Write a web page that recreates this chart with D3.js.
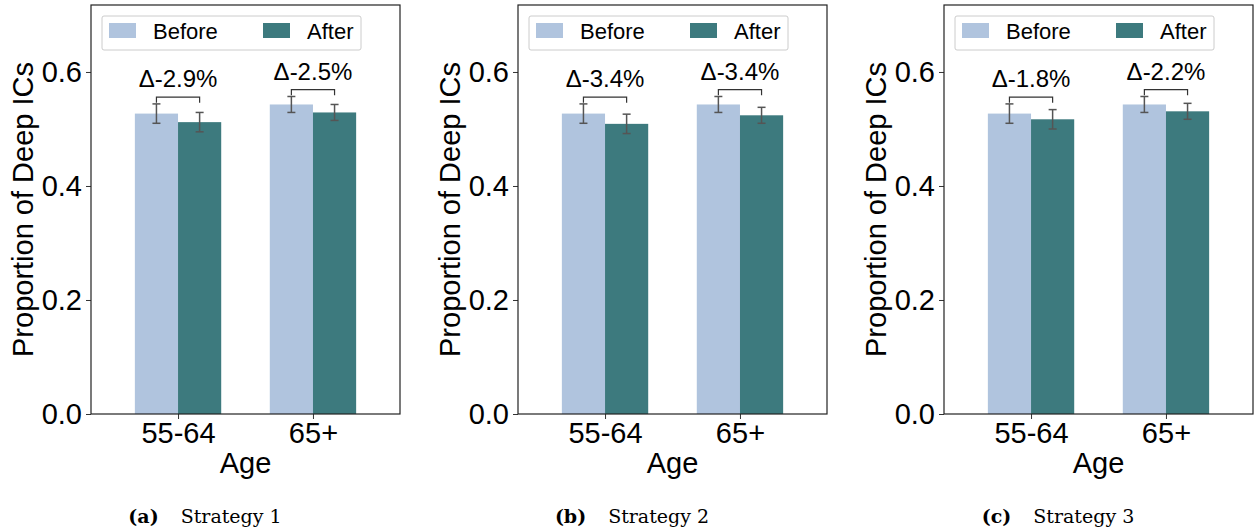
<!DOCTYPE html>
<html>
<head>
<meta charset="utf-8">
<script src="https://cdn.jsdelivr.net/npm/d3@7"></script>
<style>
  body { margin: 0; background: #fff; }
  svg { display: block; }
  .tick text { font-family: "Liberation Sans", Arial, sans-serif; font-size: 29px; fill: #000; }
  .tick line { stroke: #333; }
</style>
</head>
<body>
<svg id="chart" width="1254" height="532"></svg>
<script>
// data
var ageGroups = ["55-64", "65+"];
var seriesNames = ["Before", "After"];
var panelTags = ["(a)", "(b)", "(c)"];
var panelTitles = ["Strategy 1", "Strategy 2", "Strategy 3"];
var beforeValues = [[0.527, 0.543], [0.527, 0.543], [0.527, 0.543]];
var afterValues = [[0.512, 0.529], [0.509, 0.524], [0.517, 0.531]];
var beforeErr = [[0.017, 0.014], [0.017, 0.014], [0.017, 0.014]];
var afterErr = [[0.017, 0.014], [0.017, 0.014], [0.017, 0.014]];
var deltaLabels = [["Δ-2.9%", "Δ-2.5%"], ["Δ-3.4%", "Δ-3.4%"], ["Δ-1.8%", "Δ-2.2%"]];
var yTicks = [0, 0.2, 0.4, 0.6];

var colors = {Before: "#b0c4de", After: "#3d7a7e"};
var font = '"Liberation Sans", Arial, sans-serif';

var svg = d3.select('#chart');
svg.append('rect').attr('width', 1254).attr('height', 532).attr('fill', '#fff');

var panelLeft = [91, 518, 944],
    plotW = 309,
    plotTop = 5, plotBottom = 414,
    barW = 0.32;

var x = d3.scaleLinear().domain([-0.645, 1.645]).range([0, plotW]);
var y = d3.scaleLinear().domain([0, 0.7175]).range([plotBottom, plotTop]);

panelLeft.forEach(function(left, p) {
    var g = svg.append('g').attr('transform', 'translate(' + left + ',0)');

    var rows = ageGroups.map(function(a, i) {
        return [
            {name: "Before", i: i, v: beforeValues[p][i], e: beforeErr[p][i], off: -barW / 2},
            {name: "After", i: i, v: afterValues[p][i], e: afterErr[p][i], off: barW / 2}
        ];
    });
    var flat = rows[0].concat(rows[1]);

    // bars
    g.selectAll('rect.bar').data(flat).enter().append('rect')
        .attr('class', 'bar')
        .attr('x', function(d) { return x(d.i + d.off - barW / 2); })
        .attr('width', x(barW) - x(0))
        .attr('y', function(d) { return y(d.v); })
        .attr('height', function(d) { return y(0) - y(d.v); })
        .attr('fill', function(d) { return colors[d.name]; });

    // error bars
    var eb = g.selectAll('g.err').data(flat).enter().append('g')
        .attr('class', 'err')
        .attr('stroke', '#555')
        .attr('stroke-width', 1.5);
    eb.append('line')
        .attr('x1', function(d) { return x(d.i + d.off); })
        .attr('x2', function(d) { return x(d.i + d.off); })
        .attr('y1', function(d) { return y(d.v - d.e); })
        .attr('y2', function(d) { return y(d.v + d.e); });
    [-1, 1].forEach(function(s) {
        eb.append('line')
            .attr('x1', function(d) { return x(d.i + d.off) - 4; })
            .attr('x2', function(d) { return x(d.i + d.off) + 4; })
            .attr('y1', function(d) { return y(d.v + s * d.e); })
            .attr('y2', function(d) { return y(d.v + s * d.e); });
    });

    // brackets + delta labels
    rows.forEach(function(r, i) {
        var hi = d3.max(r, function(d) { return d.v + d.e; }) + 0.012;
        var by = y(hi), legY = y(hi - 0.01);
        var x1 = x(i - barW / 2), x2 = x(i + barW / 2);
        g.append('path')
            .attr('d', 'M' + x1 + ',' + legY + 'V' + by + 'H' + x2 + 'V' + legY)
            .attr('fill', 'none')
            .attr('stroke', '#333')
            .attr('stroke-width', 1.2);
        g.append('text')
            .attr('x', x(i))
            .attr('y', by - 10)
            .attr('text-anchor', 'middle')
            .attr('font-family', font)
            .attr('font-size', 24)
            .text(deltaLabels[p][i]);
    });

    // axes
    g.append('g')
        .attr('class', 'axis axis--y')
        .call(d3.axisLeft(y).tickValues(yTicks).tickFormat(d3.format('.1f')).tickSize(5).tickPadding(4))
        .call(function(a) { a.select('.domain').remove(); });

    g.append('g')
        .attr('class', 'axis axis--x')
        .attr('transform', 'translate(0,' + plotBottom + ')')
        .call(d3.axisBottom(x).tickValues([0, 1]).tickFormat(function(d) { return ageGroups[d]; }).tickSize(5).tickPadding(3))
        .call(function(a) { a.select('.domain').remove(); });

    // frame
    g.append('rect')
        .attr('x', 0).attr('y', plotTop)
        .attr('width', plotW).attr('height', plotBottom - plotTop)
        .attr('fill', 'none')
        .attr('stroke', '#222')
        .attr('stroke-width', 1.2);

    // axis titles
    g.append('text')
        .attr('x', plotW / 2)
        .attr('y', 473)
        .attr('text-anchor', 'middle')
        .attr('font-family', font)
        .attr('font-size', 29)
        .text('Age');

    g.append('text')
        .attr('transform', 'translate(-58,' + (plotTop + plotBottom) / 2 + ') rotate(-90)')
        .attr('text-anchor', 'middle')
        .attr('font-family', font)
        .attr('font-size', 29)
        .text('Proportion of Deep ICs');

    // legend
    var lg = g.append('g').attr('transform', 'translate(11,16)');
    lg.append('rect')
        .attr('width', 259).attr('height', 34)
        .attr('rx', 2)
        .attr('fill', '#fff')
        .attr('stroke', '#ccc')
        .attr('stroke-width', 1);
    seriesNames.forEach(function(s, k) {
        var off = k * 154;
        lg.append('rect')
            .attr('x', 7 + off).attr('y', 7)
            .attr('width', 27).attr('height', 15)
            .attr('fill', colors[s]);
        lg.append('text')
            .attr('x', 51 + off).attr('y', 23)
            .attr('font-family', font)
            .attr('font-size', 22)
            .text(s);
    });

    // caption
    var cap = svg.append('text')
        .attr('x', left - 91 + 205)
        .attr('y', 523)
        .attr('text-anchor', 'middle')
        .attr('font-family', '"DejaVu Serif", serif')
        .attr('font-size', 19);
    cap.append('tspan').attr('font-weight', 'bold').text(panelTags[p]);
    cap.append('tspan').attr('dx', 22).text(panelTitles[p]);
});
</script>
</body>
</html>
